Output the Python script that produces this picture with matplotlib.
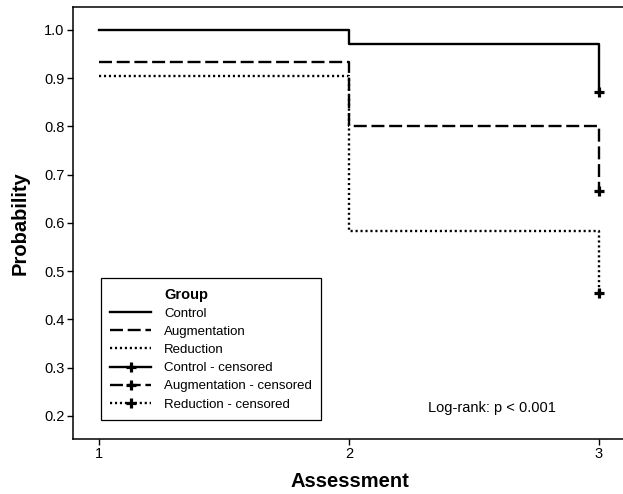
import matplotlib
matplotlib.use("Agg")
import matplotlib.pyplot as plt
from matplotlib.lines import Line2D

plt.rcParams['font.family'] = ['Liberation Sans', 'DejaVu Sans']

# Data
assessments = [1, 2, 3]
groups = ["Control", "Augmentation", "Reduction"]
control = [1.0, 0.970, 0.871]
augmentation = [0.933, 0.800, 0.667]
reduction = [0.905, 0.583, 0.455]
series = [control, augmentation, reduction]
yticks = [0.2, 0.3, 0.4, 0.5, 0.6, 0.7, 0.8, 0.9, 1.0]
xticks = [1, 2, 3]
annotation = "Log-rank: p < 0.001"

W, H = 623, 494
fig = plt.figure(figsize=(W / 100, H / 100), dpi=100)
left_px, right_px, top_px, bot_px = 72.7, 628, 7.3, 439
ax = fig.add_axes([left_px / W, (H - bot_px) / H,
                   (right_px - left_px) / W, (bot_px - top_px) / H])

lw = 1.7
styles = [dict(linestyle='-'),
          dict(linestyle=(0, (5.5, 2.0))),
          dict(linestyle=(0, (0.9, 1.2)))]

for vals, st in zip(series, styles):
    ax.step(assessments, vals, where='post', color='black', lw=lw, **st)
    ax.plot([assessments[-1]], [vals[-1]], marker='+', color='black',
            markersize=6.5, mew=2.3, linestyle='none')

ax.set_xlim(0.895, 3.116)
ax.set_ylim(0.1523, 1.047)
ax.set_xticks(xticks)
ax.set_xticklabels([str(x) for x in xticks])
ax.set_yticks(yticks)
ax.set_yticklabels([f"{y:.1f}" for y in yticks])
ax.tick_params(direction='out', length=4, width=1, labelsize=10.5, pad=2)
for s in ax.spines.values():
    s.set_linewidth(1.1)
ax.spines['right'].set_visible(False)

ax.set_xlabel("Assessment", fontsize=14.5, fontweight='bold', labelpad=8)
ax.set_ylabel("Probability", fontsize=14.5, fontweight='bold', labelpad=10)

ax.text(2.316, 0.2166, annotation, fontsize=10.5, va='center', ha='left')

handles = [Line2D([], [], linestyle='none')]
labels = ["Group"]
for g, st in zip(groups, styles):
    handles.append(Line2D([], [], color='black', lw=lw, **st))
    labels.append(g)
for g, st in zip(groups, styles):
    handles.append(Line2D([], [], color='black', lw=lw, marker='+',
                          markersize=6.5, mew=2.3, **st))
    labels.append(f"{g} - censored")

leg = ax.legend(handles, labels, loc='upper left',
                bbox_to_anchor=(101 / W, (H - 278) / H),
                bbox_transform=fig.transFigure,
                fontsize=9.5, frameon=True, fancybox=False,
                edgecolor='black', framealpha=1, borderpad=0.72,
                labelspacing=0.45, handlelength=3.1, handletextpad=0.95,
                borderaxespad=0, numpoints=1)
leg.get_frame().set_linewidth(0.9)
leg.get_texts()[0].set_fontweight('bold')
leg.get_texts()[0].set_fontsize(10.5)

fig.savefig("out.png", dpi=100)
